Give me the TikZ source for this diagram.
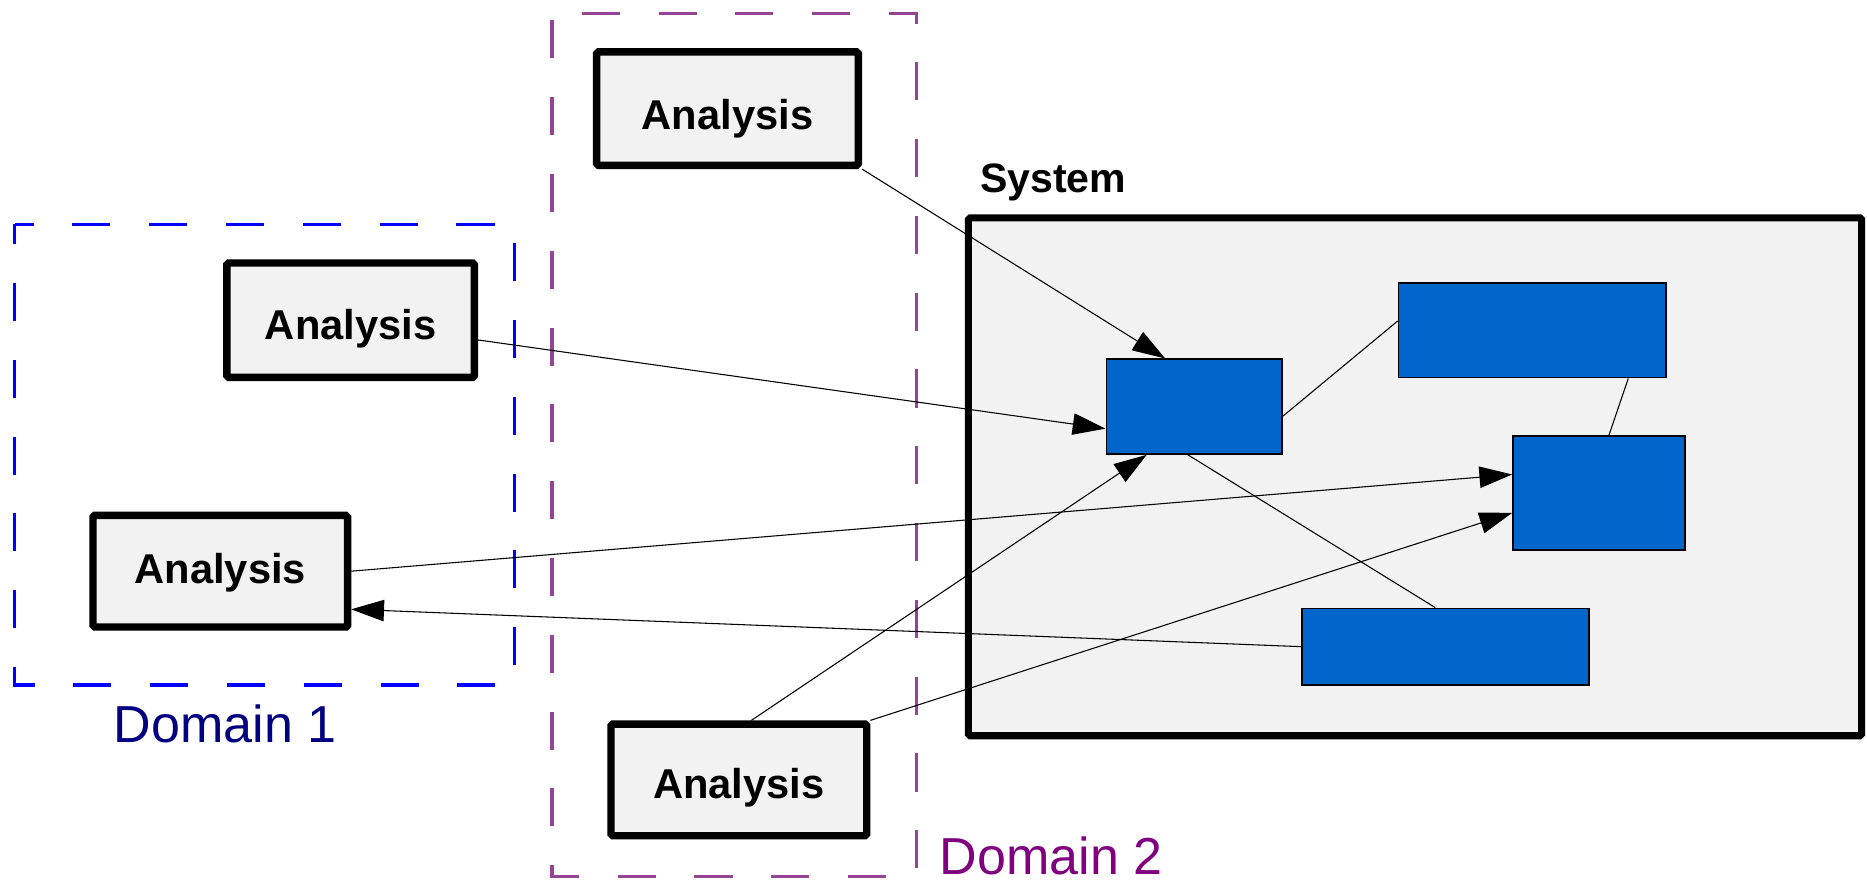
\documentclass[tikz,border=0pt]{standalone}
\usepackage{fontspec}
\setmainfont{Liberation Sans}
\usetikzlibrary{arrows.meta}

\definecolor{domainblue}{RGB}{0,0,255}
\definecolor{domainpurple}{RGB}{150,68,150}
\definecolor{labelnavy}{RGB}{0,0,128}
\definecolor{labelpurple}{RGB}{128,0,128}
\definecolor{boxgray}{RGB}{242,242,242}
\definecolor{partblue}{RGB}{0,102,204}

\tikzset{
  analysis/.style={draw=black, fill=boxgray, line width=6.2pt, rounded corners=1.5pt,
    inner sep=0pt, font=\bfseries\fontsize{35}{42}\selectfont, text depth=0pt},
  systembox/.style={draw=black, fill=boxgray, line width=6pt, rounded corners=1.5pt, inner sep=0pt},
  part/.style={draw=black, fill=partblue, line width=1.5pt, inner sep=0pt},
  domainline/.style={line width=#1, dash pattern=on 32pt off 32.5pt},
  domainlabel/.style={anchor=base west, inner sep=0pt, font=\fontsize{43.7}{52}\selectfont},
  link/.style={draw=black, line width=0.9pt},
  flow/.style={link, -{Triangle[length=27.5pt, width=18pt]}},
}

\begin{document}
\begin{tikzpicture}[x=1pt, y=-1pt]
  \useasboundingbox (0,0) rectangle (1568,740);

  % domain frames
  \draw[domainline=2.8pt, draw=domainblue, dash phase=16pt]
    (12.3,188.4) -- (432,188.4) -- (432,575.3) -- (12.3,575.3) -- cycle;
  \draw[domainline=2.7pt, draw=domainpurple, dash phase=39.5pt]
    (463.6,11.2) -- (770,11.2) -- (770,736) -- (463.6,736) -- cycle;
  \node[domainlabel, text=labelnavy] (d1) at (95.5,623.7) {Domain 1};
  \node[domainlabel, text=labelpurple] (d2) at (789,734.5) {Domain 2};

  % system
  \node[systembox, minimum width=750.2pt, minimum height=434.9pt] (sys) at (1188.4,400.45) {};
  \node[anchor=base west, inner sep=0pt, font=\bfseries\fontsize{34.5}{41}\selectfont] (syslabel) at (823,161.5) {System};

  % parts of the system
  \node[part, minimum width=147.6pt, minimum height=79.5pt] (b1) at (1003,341.5) {};
  \node[part, minimum width=224.4pt, minimum height=79.5pt] (b2) at (1286.75,277.3) {};
  \node[part, minimum width=144.7pt, minimum height=95.9pt] (b3) at (1343.1,414.1) {};
  \node[part, minimum width=240.5pt, minimum height=64.1pt] (b4) at (1214,543.1) {};

  % analyses
  \node[analysis, minimum width=219.8pt, minimum height=95.3pt, text height=34.7pt] (a1) at (611,91.25) {Analysis};
  \node[analysis, minimum width=207.9pt, minimum height=96pt, text height=33.2pt] (a2) at (294.5,268.9) {Analysis};
  \node[analysis, minimum width=213.8pt, minimum height=93.8pt, text height=20.6pt] (a3) at (185,479.7) {Analysis};
  \node[analysis, minimum width=214.8pt, minimum height=93.8pt, text height=31pt] (a4) at (620.5,655) {Analysis};

  % internal links
  \draw[link] ([yshift=-7.9pt]b1.east) -- ([yshift=7.7pt]b2.west);
  \draw[link] ([xshift=80.75pt]b2.south) -- ([xshift=8.2pt]b3.north);
  \draw[link] ([xshift=-5.3pt]b1.south) -- ([xshift=-8.6pt]b4.north);

  % data flows
  \draw[flow] (a1.south east) -- ([xshift=-24.5pt]b1.north);
  \draw[flow] ([yshift=-16.6pt]a2.east) -- ([yshift=-18.5pt]b1.west);
  \draw[flow] (a3.east) -- ([yshift=15.6pt]b3.west);
  \draw[flow] (b4.west) -- ([yshift=-32pt]a3.east);
  \draw[flow] ([xshift=10.5pt]a4.north) -- ([xshift=-40pt]b1.south);
  \draw[flow] (a4.north east) -- ([yshift=-16.6pt]b3.west);
\end{tikzpicture}
\end{document}
